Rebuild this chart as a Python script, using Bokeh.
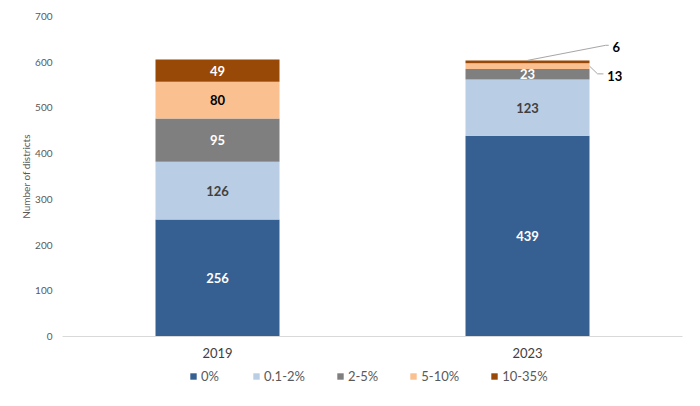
from bokeh.plotting import figure
from bokeh.layouts import column
from bokeh.models import Range1d, FactorRange, Legend, LegendItem, ColumnDataSource, FixedTicker
from bokeh.core.properties import value
from bokeh.embed import file_html
from bokeh.resources import INLINE

years = ["2019", "2023"]
bands = ["0%", "0.1-2%", "2-5%", "5-10%", "10-35%"]
v_0 = [256, 439]
v_01_2 = [126, 123]
v_2_5 = [95, 23]
v_5_10 = [80, 13]
v_10_35 = [49, 6]
series = [v_0, v_01_2, v_2_5, v_5_10, v_10_35]
y_ticks = [0, 100, 200, 300, 400, 500, 600, 700]

colors = ["#376092", "#B9CDE5", "#7F7F7F", "#FAC090", "#984807"]
label_colors = ["#FFFFFF", "#404040", "#FFFFFF", "#000000", "#FFFFFF"]
FONT = "Lato"

data = {"year": years}
for b, s in zip(bands, series):
    data[b] = s
source = ColumnDataSource(data)

p = figure(x_range=FactorRange(*years), y_range=Range1d(0, 700),
           width=692, height=363, output_backend="svg", toolbar_location=None,
           min_border_left=62, min_border_right=10, min_border_top=16, min_border_bottom=27)
p.outline_line_color = None
p.xgrid.grid_line_color = None
p.ygrid.grid_line_color = None

renderers = p.vbar_stack(bands, x="year", width=0.4, color=colors, source=source, line_color=None)

# Data labels
inside_x, inside_y, inside_t, inside_c = [], [], [], []
outside = []
for j, yr in enumerate(years):
    cum = 0
    for i, s in enumerate(series):
        v = s[j]
        mid = cum + v / 2
        cum += v
        if v >= 20:
            inside_x.append(yr); inside_y.append(mid); inside_t.append(str(v)); inside_c.append(label_colors[i])
        else:
            outside.append((j, i, v, mid, cum))
lab_src = ColumnDataSource(dict(x=inside_x, y=inside_y, t=inside_t, c=inside_c))
p.text(x="x", y="y", text="t", text_color="c", source=lab_src, text_align="center",
       text_baseline="middle", text_font=value(FONT), text_font_size="13px", text_font_style="bold")

# outside labels with leader lines (2023 bar, small segments)
for (j, i, v, mid, top) in outside:
    xc = j + 0.5
    if i == 4:  # top segment: line from bar top to the upper right
        x0, y0 = xc, top
        x1, y1 = xc + 0.252, top + 33
        xs, ys = [x0, x1, x1 + 0.01], [y0, y1, y1]
        ty = y1 - 3
    else:
        x0, y0 = xc + 0.2, mid
        x1, y1 = xc + 0.226, mid - 17
        xs, ys = [x0, x1, x1 + 0.019], [y0, y1, y1]
        ty = y1 - 4
    p.line(xs, ys, line_color="#A6A6A6", line_width=1)
    p.text(x=[xs[-1] + 0.012], y=[ty], text=[str(v)], text_color="#000000", text_align="left",
           text_baseline="middle", text_font=value(FONT), text_font_size="13px", text_font_style="bold")

# Axes
p.yaxis.ticker = FixedTicker(ticks=y_ticks)
p.yaxis.axis_line_color = None
p.yaxis.major_tick_line_color = None
p.yaxis.major_tick_out = 0
p.yaxis.minor_tick_line_color = None
p.yaxis.major_label_text_color = "#595959"
p.yaxis.major_label_text_font = FONT
p.yaxis.major_label_text_font_size = "10px"
p.yaxis.major_label_standoff = 10
p.yaxis.axis_label = "Number of districts"
p.yaxis.axis_label_text_font = FONT
p.yaxis.axis_label_text_font_size = "10px"
p.yaxis.axis_label_text_font_style = "normal"
p.yaxis.axis_label_text_color = "#595959"
p.yaxis.axis_label_standoff = 0

p.xaxis.axis_line_color = "#D9D9D9"
p.xaxis.major_tick_line_color = None
p.xaxis.major_tick_out = 0
p.xaxis.minor_tick_line_color = None
p.xaxis.major_label_text_color = "#404040"
p.xaxis.major_label_text_font = FONT
p.xaxis.major_label_text_font_size = "13px"
p.xaxis.major_label_standoff = 11

# Legend strip below the chart (proxy glyphs sit outside the visible range)
lg = figure(width=692, height=26, output_backend="svg", toolbar_location=None,
            x_range=Range1d(0, 1), y_range=Range1d(0, 1),
            min_border_left=0, min_border_right=0, min_border_top=0, min_border_bottom=0)
lg.outline_line_color = None
lg.axis.visible = False
lg.grid.visible = False
items = []
for b, c in zip(bands, colors):
    r = lg.rect(x=[-5], y=[-5], width=0.1, height=0.1, color=c, line_color=None)
    items.append(LegendItem(label=b, renderers=[r]))
legend = Legend(items=items, orientation="horizontal", location=(127, 5), border_line_color=None,
                background_fill_alpha=0,
                glyph_width=8, glyph_height=8, label_standoff=4, spacing=31, padding=4, margin=0,
                label_text_font=FONT, label_text_font_size="13px", label_text_color="#595959")
lg.add_layout(legend, "center")

layout = column(p, lg, spacing=0)
open("out.html", "w").write(file_html(layout, INLINE))
